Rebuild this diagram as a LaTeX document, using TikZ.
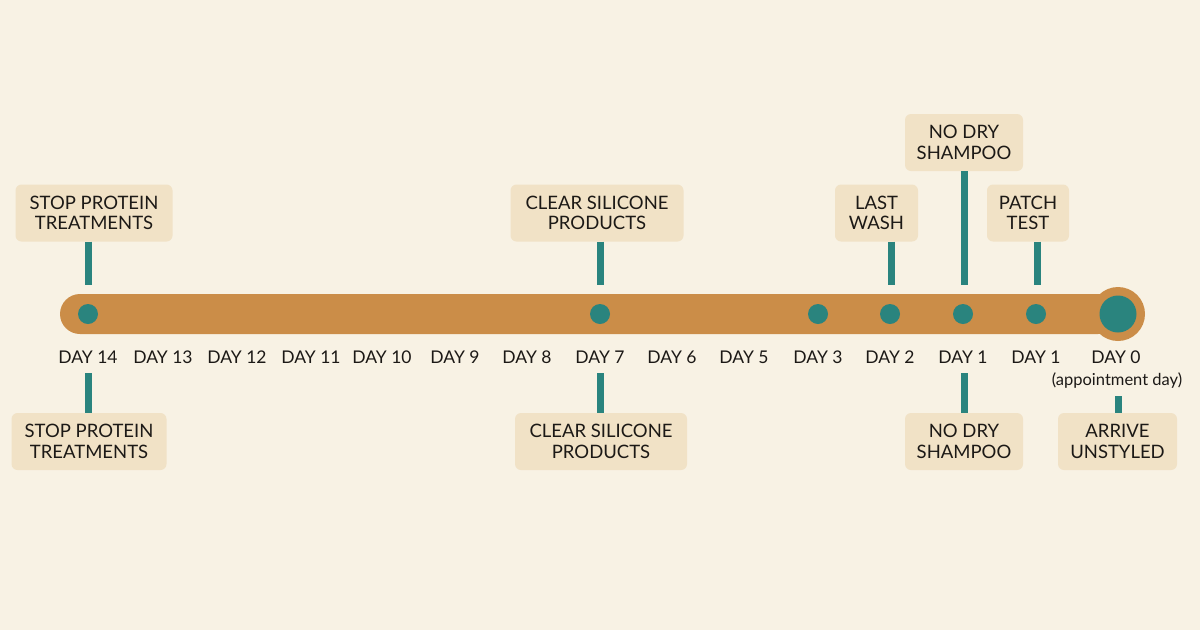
\documentclass[tikz,border=0pt]{standalone}
\usepackage{fontspec}
\setmainfont{Lato}
\definecolor{bgc}{RGB}{248,242,228}
\definecolor{barc}{RGB}{203,141,72}
\definecolor{tealc}{RGB}{42,132,126}
\definecolor{boxc}{RGB}{241,226,198}
\definecolor{txtc}{RGB}{28,25,22}
\tikzset{
  evbox/.style={fill=boxc, rounded corners=6pt, align=center, text=txtc, inner sep=0pt,
    minimum height=57pt, font=\fontsize{18.5}{20.5}\selectfont},
  daylab/.style={text=txtc, inner sep=0pt, font=\fontsize{17.5}{20}\selectfont, anchor=base},
  dotn/.style={circle, fill=tealc, minimum size=20pt, inner sep=0pt},
  stem/.style={draw=tealc, line width=7pt}
}
\begin{document}
\begin{tikzpicture}[x=1pt,y=-1pt]
\useasboundingbox (0,0) rectangle (1200,630);
\fill[bgc] (0,0) rectangle (1200,630);
% bar
\fill[barc, rounded corners=20pt] (60,294) rectangle (1118,334);
\node[circle, fill=barc, minimum size=54pt, inner sep=0pt] (endc) at (1118,314) {};
\node[circle, fill=tealc, minimum size=37pt, inner sep=0pt] (d0) at (1118,314) {};
% dots
\node[dotn] (d14) at (88,314) {};
\node[dotn] (d7) at (600,314) {};
\node[dotn] (d3) at (818,314) {};
\node[dotn] (d2) at (890,314) {};
\node[dotn] (d1a) at (963,314) {};
\node[dotn] (d1b) at (1036,314) {};
% day labels
\foreach \x/\t/\n in {88/DAY 14/l14,163/DAY 13/l13,237/DAY 12/l12,311/DAY 11/l11,382/DAY 10/l10,455/DAY 9/l9,527/DAY 8/l8,600/DAY 7/l7,672/DAY 6/l6,744/DAY 5/l5,818/DAY 3/l3,890/DAY 2/l2,963/DAY 1/l1a,1036/DAY 1/l1b,1116/DAY 0/l0}
  \node[daylab] (\n) at (\x,363) {\t};
\node[text=txtc, inner sep=0pt, anchor=base, font=\fontsize{16.5}{18}\selectfont] (appt) at (1117,385) {(appointment day)};
% top boxes
\node[evbox, minimum width=157pt] (tb14) at (94,213) {STOP PROTEIN\\TREATMENTS};
\node[evbox, minimum width=173pt] (tb7) at (597,213) {CLEAR SILICONE\\PRODUCTS};
\node[evbox, minimum width=83pt] (tb2) at (876.5,213) {LAST\\WASH};
\node[evbox, minimum width=118pt] (tb1a) at (964,142.5) {NO DRY\\SHAMPOO};
\node[evbox, minimum width=82pt] (tb1b) at (1028,213) {PATCH\\TEST};
% bottom boxes
\node[evbox, minimum width=155pt] (bb14) at (89,441.5) {STOP PROTEIN\\TREATMENTS};
\node[evbox, minimum width=172pt] (bb7) at (601,441.5) {CLEAR SILICONE\\PRODUCTS};
\node[evbox, minimum width=118pt] (bb1) at (964,441.5) {NO DRY\\SHAMPOO};
\node[evbox, minimum width=119pt] (bb0) at (1117.5,441.5) {ARRIVE\\UNSTYLED};
% stem ends
\coordinate (s14t) at (88,285);
\coordinate (s7t) at (600,285);
\coordinate (s2t) at (891,285);
\coordinate (s1at) at (964,285);
\coordinate (s1bt) at (1037,285);
\coordinate (s14b) at (88,373);
\coordinate (s7b) at (600,373);
\coordinate (s1b) at (964,373);
\coordinate (s0b) at (1118,396);
% stems
\draw[stem] (tb14.south -| s14t) -- (s14t);
\draw[stem] (tb7.south -| s7t) -- (s7t);
\draw[stem] (tb2.south -| s2t) -- (s2t);
\draw[stem] (tb1a.south -| s1at) -- (s1at);
\draw[stem] (tb1b.south -| s1bt) -- (s1bt);
\draw[stem] (s14b) -- (bb14.north -| s14b);
\draw[stem] (s7b) -- (bb7.north -| s7b);
\draw[stem] (s1b) -- (bb1.north -| s1b);
\draw[stem] (s0b) -- (bb0.north -| s0b);
\end{tikzpicture}
\end{document}
